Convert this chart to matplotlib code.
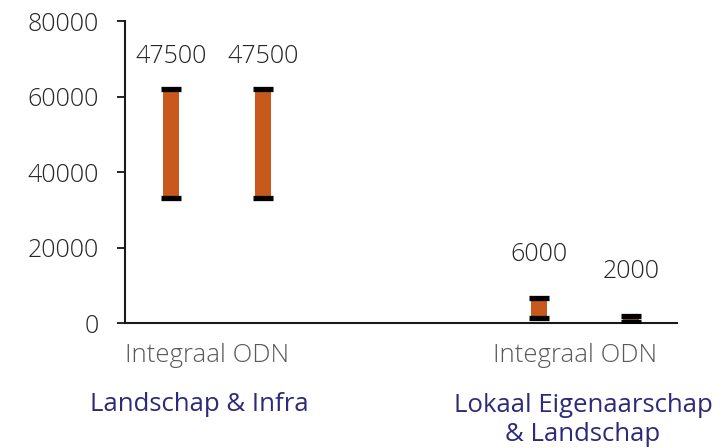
import numpy as np
import matplotlib.pyplot as plt

plt.rcParams['font.family'] = ['Open Sans', 'DejaVu Sans']

# data: floating bars (low/high) in 6 category slots, two empty
slots = [0, 1, 4, 5]
lows = [33000, 33000, 1200, 200]
highs = [62000, 62000, 6500, 1900]
labels = ['47500', '47500', '6000', '2000']
label_off = [32, 32, 44, 44]  # px above the top cap
sub_labels = ['Integraal ODN', 'Integraal ODN']
group_labels = ['Landschap & Infra', 'Lokaal Eigenaarschap\n& Landschap']

bar_col = '#C8591C'
fsz = 18
wt = 'light'

fig = plt.figure(figsize=(7.22, 4.48), dpi=100)
ax = fig.add_axes([0.173, 0.279, 0.765, 0.674])

x = np.array(slots)
lo = np.array(lows)
hi = np.array(highs)
ax.bar(x, hi - lo, bottom=lo, width=0.17, color=bar_col, zorder=2)
ax.plot(x, hi, linestyle='none', marker='_', markersize=15, mew=3.8, color='black', zorder=3)
ax.plot(x, lo, linestyle='none', marker='_', markersize=15, mew=3.8, color='black', zorder=3)

for xi, h, lab, off in zip(x, hi, labels, label_off):
    ax.annotate(lab, (xi, h), xytext=(0, off * 0.72), textcoords='offset points',
                ha='center', va='center', fontsize=fsz, color='#262626', fontweight=wt)

ax.set_xlim(-0.5, 5.5)
ax.set_ylim(0, 80000)
ax.set_yticks(np.arange(0, 80001, 20000))
ax.tick_params(axis='y', direction='out', length=6, width=1.2, labelsize=fsz,
               labelcolor='#262626', pad=13)
for t in ax.get_yticklabels():
    t.set_fontweight(wt)
ax.set_xticks([])
for s in ['top', 'right']:
    ax.spines[s].set_visible(False)
for s in ['left', 'bottom']:
    ax.spines[s].set_linewidth(1.5)
    ax.spines[s].set_color('#1a1a1a')

# multi-level category labels
fig.text(207 / 722, 1 - 356 / 448, sub_labels[0], ha='center', va='center',
         fontsize=18.5, color='#595959', fontweight=wt)
fig.text(575 / 722, 1 - 356 / 448, sub_labels[1], ha='center', va='center',
         fontsize=18.5, color='#595959', fontweight=wt)
fig.text(199 / 722, 1 - 404 / 448, group_labels[0], ha='center', va='center',
         fontsize=18.5, color='#2E2A7A')
fig.text(583 / 722, 1 - 420 / 448, group_labels[1], ha='center', va='center',
         fontsize=18.5, color='#2E2A7A', linespacing=1.2)

fig.savefig('out.png', dpi=100)
